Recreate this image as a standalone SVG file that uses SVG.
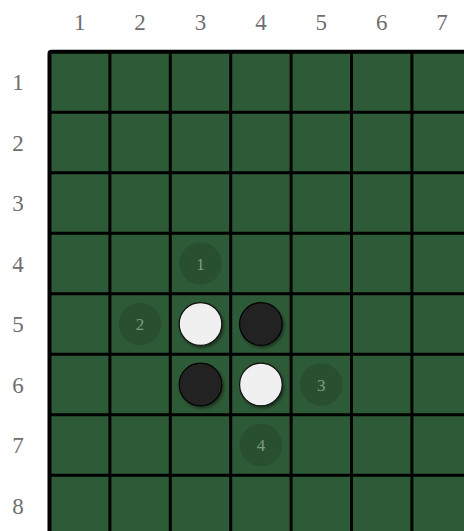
<svg xmlns="http://www.w3.org/2000/svg" width="464" height="531" viewBox="0 0 464 531">
<style>
.lbl{font-family:"Liberation Serif","DejaVu Serif",serif;font-size:23px;fill:#6e6e6e;text-anchor:middle}
.grid line{stroke:#000;stroke-width:3}
.white{fill:#f0f0f0;stroke:#111;stroke-width:1.2;filter:url(#sh)}
.black{fill:#222;stroke:#000;stroke-width:1.2;filter:url(#sh)}
.hint{fill:#000;fill-opacity:0.13}
.hnum{font-family:"Liberation Serif","DejaVu Serif",serif;font-size:17px;fill:#7f9b84;text-anchor:middle}
</style>
<defs>
<filter id="sh" x="-30%" y="-30%" width="170%" height="170%">
<feDropShadow dx="1.5" dy="2" stdDeviation="1.5" flood-color="#000" flood-opacity="0.45"/>
</filter>
</defs>
<rect width="464" height="531" fill="#fff"/>
<g id="labels">
<text class="lbl" x="79.7" y="30">1</text>
<text class="lbl" x="140.1" y="30">2</text>
<text class="lbl" x="200.5" y="30">3</text>
<text class="lbl" x="260.9" y="30">4</text>
<text class="lbl" x="321.3" y="30">5</text>
<text class="lbl" x="381.7" y="30">6</text>
<text class="lbl" x="442.1" y="30">7</text>
<text class="lbl" x="18" y="90">1</text>
<text class="lbl" x="18" y="150.5">2</text>
<text class="lbl" x="18" y="211">3</text>
<text class="lbl" x="18" y="271.5">4</text>
<text class="lbl" x="18" y="332">5</text>
<text class="lbl" x="18" y="392.5">6</text>
<text class="lbl" x="18" y="453">7</text>
<text class="lbl" x="18" y="513.5">8</text>
</g>
<g id="board">
<rect x="49.5" y="51.7" width="500" height="500" fill="#2e5b37" stroke="#000" stroke-width="4" rx="2"/>
<g class="grid">
<line x1="109.9" y1="51.7" x2="109.9" y2="531"/>
<line x1="170.3" y1="51.7" x2="170.3" y2="531"/>
<line x1="230.7" y1="51.7" x2="230.7" y2="531"/>
<line x1="291.1" y1="51.7" x2="291.1" y2="531"/>
<line x1="351.5" y1="51.7" x2="351.5" y2="531"/>
<line x1="411.9" y1="51.7" x2="411.9" y2="531"/>
<line x1="49.5" y1="112.2" x2="464" y2="112.2"/>
<line x1="49.5" y1="172.7" x2="464" y2="172.7"/>
<line x1="49.5" y1="233.2" x2="464" y2="233.2"/>
<line x1="49.5" y1="293.7" x2="464" y2="293.7"/>
<line x1="49.5" y1="354.2" x2="464" y2="354.2"/>
<line x1="49.5" y1="414.7" x2="464" y2="414.7"/>
<line x1="49.5" y1="475.2" x2="464" y2="475.2"/>
</g>
</g>
<g id="hint1"><circle class="hint" cx="200.5" cy="263.5" r="21.3"/><text class="hnum" x="200.5" y="269.5">1</text></g>
<g id="hint2"><circle class="hint" cx="140.1" cy="324" r="21.3"/><text class="hnum" x="140.1" y="330">2</text></g>
<g id="hint3"><circle class="hint" cx="321.3" cy="384.5" r="21.3"/><text class="hnum" x="321.3" y="390.5">3</text></g>
<g id="hint4"><circle class="hint" cx="260.9" cy="445" r="21.3"/><text class="hnum" x="260.9" y="451">4</text></g>
<g id="stone-w-3-5"><circle class="white" cx="200.5" cy="324" r="21.3"/></g>
<g id="stone-b-4-5"><circle class="black" cx="260.9" cy="324" r="21.3"/></g>
<g id="stone-b-3-6"><circle class="black" cx="200.5" cy="384.5" r="21.3"/></g>
<g id="stone-w-4-6"><circle class="white" cx="260.9" cy="384.5" r="21.3"/></g>
<g id="connectors"></g>
</svg>
